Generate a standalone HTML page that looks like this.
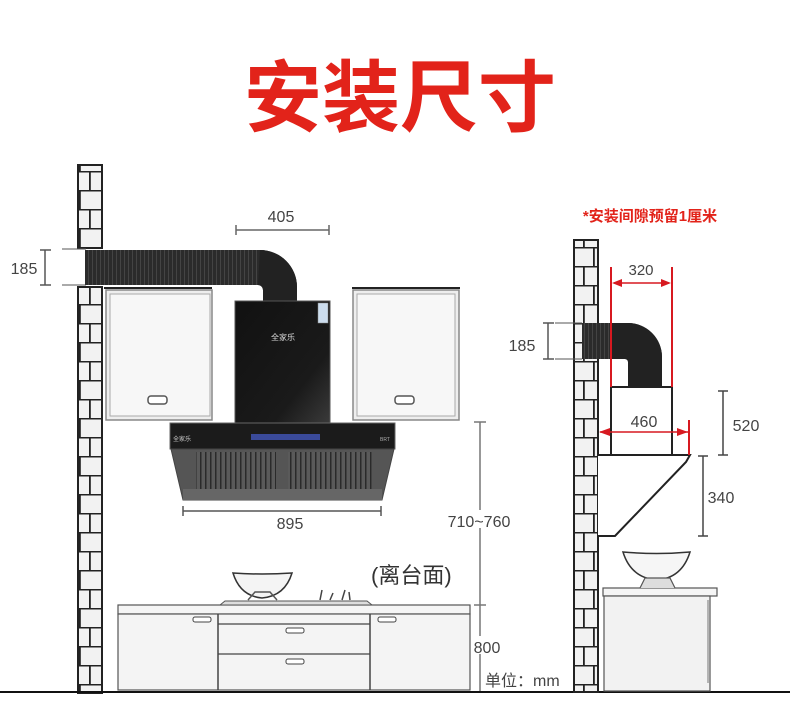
<!DOCTYPE html>
<html><head><meta charset="utf-8"><style>
html,body{margin:0;padding:0;background:#fff;}
svg{display:block;}
text{font-family:"Liberation Sans","Noto Sans CJK SC",sans-serif;}
</style></head><body>
<svg width="790" height="716" viewBox="0 0 790 716" xmlns="http://www.w3.org/2000/svg">
<defs>
<pattern id="brick" x="0" y="0" width="24" height="38" patternUnits="userSpaceOnUse">
<rect width="24" height="38" fill="#f2f2f2"/>
<rect x="0" y="0" width="24" height="1.5" fill="#222"/>
<rect x="0" y="19" width="24" height="1.5" fill="#222"/>
<rect x="7" y="0" width="1.8" height="19" fill="#222"/>
<rect x="17" y="19" width="1.8" height="19" fill="#222"/>
</pattern>
<pattern id="ribs" x="0" y="0" width="4" height="10" patternUnits="userSpaceOnUse">
<rect width="4" height="10" fill="#2b2b2b"/><rect x="0" width="1" height="10" fill="#444"/>
</pattern>
<pattern id="vent" x="0" y="0" width="5" height="10" patternUnits="userSpaceOnUse">
<rect width="5" height="10" fill="#5a5a5a"/><rect x="0" width="1.5" height="10" fill="#2a2a2a"/>
</pattern>
<linearGradient id="blk" x1="0" y1="0" x2="1" y2="1"><stop offset="0" stop-color="#111"/><stop offset="0.7" stop-color="#1a1a1a"/><stop offset="1" stop-color="#3a3a3a"/></linearGradient>
</defs>

<text x="400" y="125" text-anchor="middle" font-size="78" font-weight="bold" fill="#e2231a">安装尺寸</text>

<!-- LEFT WALL -->
<rect x="78" y="165" width="24" height="83" fill="url(#brick)" stroke="#222" stroke-width="2"/>
<rect x="78" y="287" width="24" height="406" fill="url(#brick)" stroke="#222" stroke-width="2"/>

<!-- 405 -->
<text x="281" y="222" text-anchor="middle" font-size="16" fill="#444">405</text>
<line x1="236" y1="230" x2="329" y2="230" stroke="#666" stroke-width="1.5"/>
<line x1="236" y1="225" x2="236" y2="235" stroke="#666" stroke-width="1.5"/>
<line x1="329" y1="225" x2="329" y2="235" stroke="#666" stroke-width="1.5"/>

<!-- 185 left -->
<text x="24" y="274" text-anchor="middle" font-size="16" fill="#444">185</text>
<line x1="45" y1="250" x2="45" y2="285" stroke="#555" stroke-width="1.5"/>
<line x1="40" y1="250" x2="51" y2="250" stroke="#555" stroke-width="1.5"/>
<line x1="40" y1="285" x2="51" y2="285" stroke="#555" stroke-width="1.5"/>
<line x1="62" y1="249" x2="86" y2="249" stroke="#555" stroke-width="1"/>
<line x1="62" y1="285" x2="86" y2="285" stroke="#555" stroke-width="1"/>

<!-- duct -->
<path d="M85 250 H260 A37 37 0 0 1 297 287 V302 H263 V290 A5 5 0 0 0 258 285 H85 Z" fill="url(#ribs)"/>
<path d="M260 250 A37 37 0 0 1 297 287 V302 H263 V290 A5 5 0 0 0 258 285 Z" fill="#222"/>

<!-- upper cabinets -->
<line x1="104" y1="288" x2="212" y2="288" stroke="#222" stroke-width="2"/>
<rect x="106" y="290" width="106" height="130" fill="#eee" stroke="#888" stroke-width="1.5"/>
<rect x="110" y="294" width="100" height="122" fill="#f7f7f7" stroke="#aaa"/>
<rect x="148" y="396" width="19" height="8" rx="3" fill="#fff" stroke="#555" stroke-width="1.5"/>
<line x1="352" y1="288" x2="460" y2="288" stroke="#222" stroke-width="2"/>
<rect x="353" y="290" width="106" height="130" fill="#eee" stroke="#888" stroke-width="1.5"/>
<rect x="357" y="294" width="98" height="122" fill="#f7f7f7" stroke="#aaa"/>
<rect x="395" y="396" width="19" height="8" rx="3" fill="#fff" stroke="#555" stroke-width="1.5"/>

<!-- hood chimney -->
<rect x="235" y="301" width="95" height="122" fill="url(#blk)" stroke="#555"/>
<rect x="318" y="303" width="10" height="20" fill="#cde" stroke="#888" stroke-width="0.5"/>
<text x="283" y="340" text-anchor="middle" font-size="8" fill="#ddd">全家乐</text>

<!-- hood body -->
<rect x="170" y="423" width="225" height="26" fill="#1b1b1b" stroke="#666"/>
<rect x="251" y="434" width="69" height="6" fill="#3a4a9a"/>
<text x="173" y="441" font-size="6" fill="#ccc">全家乐</text>
<text x="380" y="441" font-size="5" fill="#aaa">BRT</text>
<path d="M171 449 H394 L382 500 H183 Z" fill="#555" stroke="#444"/>
<rect x="196" y="452" width="80" height="38" fill="url(#vent)"/>
<rect x="288" y="452" width="84" height="38" fill="url(#vent)"/>
<rect x="183" y="489" width="199" height="11" fill="#666"/>

<!-- 895 -->
<line x1="183" y1="511" x2="381" y2="511" stroke="#555" stroke-width="1.5"/>
<line x1="183" y1="506" x2="183" y2="516" stroke="#555" stroke-width="1.5"/>
<line x1="381" y1="506" x2="381" y2="516" stroke="#555" stroke-width="1.5"/>
<text x="290" y="529" text-anchor="middle" font-size="16" fill="#444">895</text>

<!-- 710~760 / 800 -->
<line x1="480" y1="422" x2="480" y2="692" stroke="#777" stroke-width="1.5"/>
<line x1="474" y1="422" x2="486" y2="422" stroke="#777" stroke-width="1.5"/>
<line x1="474" y1="605" x2="486" y2="605" stroke="#777" stroke-width="1.5"/>
<rect x="446" y="510" width="68" height="18" fill="#fff"/>
<text x="479" y="527" text-anchor="middle" font-size="16" fill="#444">710~760</text>
<rect x="472" y="636" width="30" height="18" fill="#fff"/>
<text x="487" y="653" text-anchor="middle" font-size="16" fill="#444">800</text>
<rect x="482" y="666" width="90" height="22" fill="#fff"/>
<text x="485" y="686" font-size="16" fill="#444">单位：mm</text>
<text x="371" y="583" font-size="22" fill="#333">(离台面)</text>

<!-- counter left -->
<rect x="118" y="605" width="352" height="9" fill="#f5f5f5" stroke="#555" stroke-width="1.2"/>
<rect x="118" y="614" width="352" height="76" fill="#f4f4f4" stroke="#555" stroke-width="1.2"/>
<line x1="218" y1="614" x2="218" y2="690" stroke="#444" stroke-width="1.5"/>
<line x1="370" y1="614" x2="370" y2="690" stroke="#444" stroke-width="1.5"/>
<line x1="218" y1="624" x2="370" y2="624" stroke="#444" stroke-width="1.2"/>
<line x1="218" y1="654" x2="370" y2="654" stroke="#444" stroke-width="1.2"/>
<rect x="193" y="617" width="18" height="5" rx="2" fill="#fff" stroke="#444"/>
<rect x="378" y="617" width="18" height="5" rx="2" fill="#fff" stroke="#444"/>
<rect x="286" y="628" width="18" height="5" rx="2" fill="#fff" stroke="#444"/>
<rect x="286" y="659" width="18" height="5" rx="2" fill="#fff" stroke="#444"/>
<path d="M220 605 L225 601 H367 L372 605 Z" fill="#ddd" stroke="#555"/>
<path d="M233 573 Q262 575 292 573 Q285 596 262 598 Q240 596 233 573 Z" fill="#f4f4f4" stroke="#333" stroke-width="1.5"/>
<path d="M248 600 L255 592 H270 L277 600" fill="none" stroke="#555" stroke-width="1.5"/>
<path d="M320 600 L322 590 M330 600 L333 593 M342 600 L345 590 M350 600 L349 592" stroke="#444" stroke-width="1.5"/>

<!-- floor -->
<rect x="0" y="691" width="790" height="2" fill="#111"/>

<!-- RIGHT SIDE -->
<text x="650" y="221" text-anchor="middle" font-size="15" font-weight="bold" fill="#e2231a">*安装间隙预留1厘米</text>
<rect x="574" y="240" width="24" height="452" fill="url(#brick)" stroke="#222" stroke-width="2"/>
<!-- duct right -->
<path d="M582 323 H628 A34 34 0 0 1 662 357 V387 H628 V362 A3 3 0 0 0 625 359 H582 Z" fill="url(#ribs)"/>
<path d="M610 323 H628 A34 34 0 0 1 662 357 V387 H628 V362 A3 3 0 0 0 625 359 H610 Z" fill="#222"/>
<!-- 185 right -->
<text x="522" y="351" text-anchor="middle" font-size="16" fill="#444">185</text>
<line x1="548" y1="323" x2="548" y2="359" stroke="#555" stroke-width="1.5"/>
<line x1="543" y1="323" x2="554" y2="323" stroke="#555" stroke-width="1.5"/>
<line x1="543" y1="359" x2="554" y2="359" stroke="#555" stroke-width="1.5"/>
<line x1="555" y1="323" x2="582" y2="323" stroke="#555" stroke-width="1"/>
<line x1="555" y1="359" x2="582" y2="359" stroke="#555" stroke-width="1"/>
<!-- hood right -->
<rect x="611" y="387" width="61" height="68" fill="#fff" stroke="#222" stroke-width="2"/>
<path d="M598 455 H690 L686 462 L615 536 H598" fill="#fff" stroke="#222" stroke-width="2"/>
<!-- red dims -->
<line x1="611" y1="267" x2="611" y2="387" stroke="#d71920" stroke-width="2"/>
<line x1="672" y1="267" x2="672" y2="387" stroke="#d71920" stroke-width="2"/>
<line x1="614" y1="283" x2="669" y2="283" stroke="#d71920" stroke-width="1.5"/>
<path d="M612 283 L622 279 L622 287 Z M671 283 L661 279 L661 287 Z" fill="#d71920"/>
<text x="641" y="275" text-anchor="middle" font-size="15" fill="#444">320</text>
<line x1="689" y1="420" x2="689" y2="455" stroke="#d71920" stroke-width="2"/>
<line x1="600" y1="432" x2="688" y2="432" stroke="#d71920" stroke-width="1.5"/>
<path d="M599 432 L610 428 L610 436 Z M688 432 L677 428 L677 436 Z" fill="#d71920"/>
<text x="644" y="427" text-anchor="middle" font-size="16" fill="#444">460</text>
<!-- 520 / 340 -->
<line x1="723" y1="391" x2="723" y2="455" stroke="#444" stroke-width="1.5"/>
<line x1="718" y1="391" x2="728" y2="391" stroke="#444" stroke-width="1.5"/>
<line x1="718" y1="455" x2="728" y2="455" stroke="#444" stroke-width="1.5"/>
<text x="746" y="431" text-anchor="middle" font-size="16" fill="#444">520</text>
<line x1="703" y1="456" x2="703" y2="536" stroke="#444" stroke-width="1.5"/>
<line x1="698" y1="456" x2="708" y2="456" stroke="#444" stroke-width="1.5"/>
<line x1="698" y1="536" x2="708" y2="536" stroke="#444" stroke-width="1.5"/>
<text x="721" y="503" text-anchor="middle" font-size="16" fill="#444">340</text>
<!-- right counter -->
<rect x="603" y="588" width="114" height="8" fill="#f5f5f5" stroke="#555" stroke-width="1.2"/>
<rect x="604" y="596" width="106" height="95" fill="#f2f2f2" stroke="#555" stroke-width="1.2"/>
<line x1="708" y1="600" x2="708" y2="683" stroke="#777"/>
<path d="M623 552 Q657 555 690 552 Q682 578 657 580 Q631 578 623 552 Z" fill="#f6f6f6" stroke="#333" stroke-width="1.5"/>
<path d="M640 588 L645 578 H670 L675 588" fill="#ddd" stroke="#555" stroke-width="1.2"/>
</svg>
</body></html>
